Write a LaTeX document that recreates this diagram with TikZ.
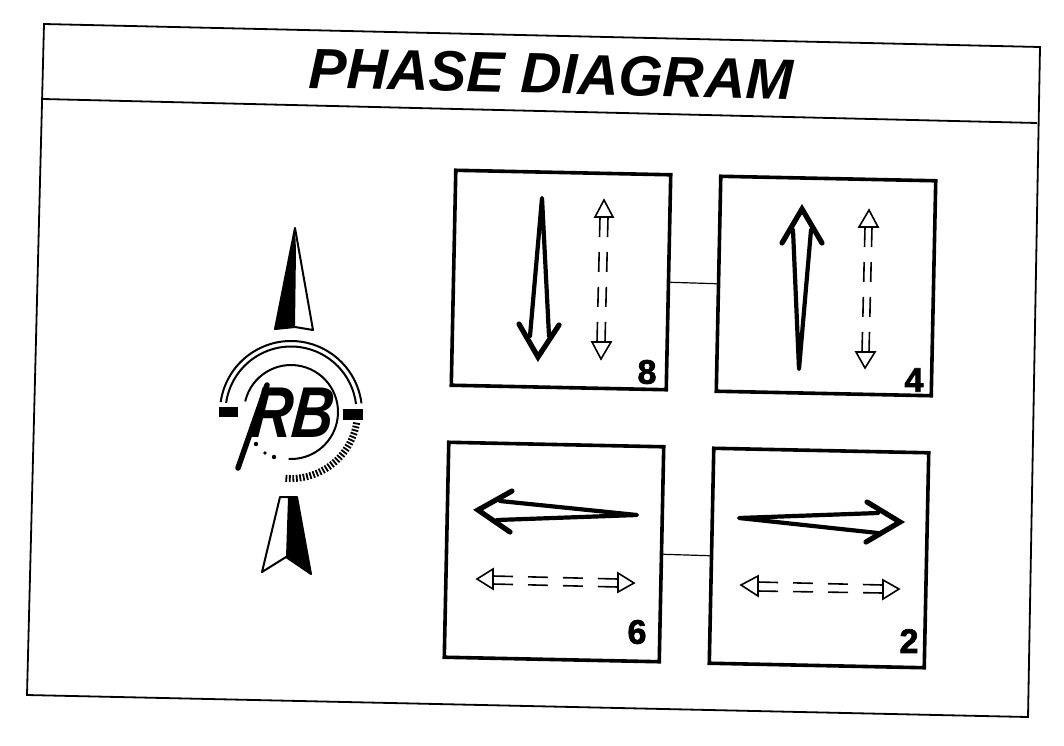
\documentclass[tikz,border=0pt]{standalone}
\usepackage{fontspec}
\setmainfont{Liberation Sans}[BoldFeatures={FakeBold=2.2}]
\usetikzlibrary{calc}
\tikzset{
  framepen/.style={line width=1.8pt},
  panel/.style={draw,line width=3.6pt,minimum width=215pt,minimum height=215pt,inner sep=0pt,rotate=-1.2},
  statelabel/.style={font=\fontsize{34}{34}\bfseries\selectfont},
  boldpen/.style={line width=4.2pt,line cap=round,line join=round},
  headpen/.style={line width=5.2pt,line cap=round,line join=miter},
  openpen/.style={line width=1.6pt,line join=miter},
  dashpen/.style={line width=1.6pt,dash pattern=on 20pt off 15pt},
  logopen/.style={line width=2pt}
}
\begin{document}
\begin{tikzpicture}[x=1pt,y=-1pt]

\useasboundingbox (0,0) rectangle (1064,745);

% outer frame
\coordinate (fr_tl) at (44,24) ;
\coordinate (fr_tr) at (1040,47) ;
\coordinate (fr_br) at (1028,717) ;
\coordinate (fr_bl) at (27,695) ;
\draw[framepen] (fr_tl) -- (fr_tr) -- (fr_br) -- (fr_bl) -- cycle ;
\draw[framepen] (43,99) -- (1037,123) ;
\node[rotate=-1.3,font=\fontsize{57}{57}\bfseries\itshape\selectfont] (title) at (551,74) {PHASE DIAGRAM};

% compass arrows
\fill (295,228) -- (275,329) -- (295,327) -- (296,250) -- cycle ;
\draw[line width=2pt,line join=round] (295,228) -- (275,329) -- (295,327) -- (313,330) -- cycle ;
\fill (288,498) -- (297,497) -- (311,574) -- (286,557) -- cycle ;
\draw[line width=2pt,line join=round] (280,497) -- (297,497) -- (311,574) -- (286,557) -- (262,572) -- cycle ;

% logo
\coordinate (lg_c) at (291,412) ;
\draw[logopen] ($(lg_c)+(172:71pt)$) arc[start angle=172,end angle=7,radius=71pt] ;
\draw[logopen] ($(lg_c)+(172:65.5pt)$) arc[start angle=172,end angle=7,radius=65.5pt] ;
\draw[logopen] ($(lg_c)+(167:47pt)$) arc[start angle=167,end angle=-93,radius=47pt] ;
\fill (219,407) rectangle (238,417) ;
\fill (343,409) rectangle (363,420) ;
\foreach \ang in {-10,-13,...,-94}
  \draw[line width=1.8pt] ($(lg_c)+(\ang:63pt)$) -- ($(lg_c)+(\ang:70pt)$) ;
\draw[line width=5.5pt,line cap=round] (267,385) -- (238,468) ;
\node[font=\fontsize{72}{72}\bfseries\itshape\selectfont,xscale=0.8,xslant=0.12] (logo_rb) at (293,413) {RB};
\fill (256,444) circle (2.2pt) (265,453) circle (1.8pt) (274,457) circle (2.2pt) ;

% the four states
\node[panel] (st8) at (561,280) {} ;
\node[panel] (st4) at (826,286) {} ;
\node[panel] (st6) at (554,552) {} ;
\node[panel] (st2) at (819,558) {} ;

\draw[line width=1.2pt] (st8.east) -- (st4.west) ;
\draw[line width=1.2pt] (st6.east) -- (st2.west) ;

\node[statelabel] (num8) at (647,372) {8} ;
\node[statelabel] (num4) at (914,380) {4} ;
\node[statelabel] (num6) at (637,632) {6} ;
\node[statelabel] (num2) at (909,641) {2} ;

% state 8
\draw[boldpen] (530,336) -- (542,198) -- (549,336) ;
\draw[headpen] (519,324) -- (538,357) -- (559,325) ;
\draw[openpen] (595,217) -- (604,200) -- (613,217) -- cycle ;
\draw[dashpen] (600,217) -- (597,342) ;
\draw[dashpen] (608,217) -- (605,342) ;
\draw[openpen] (592,342) -- (601,359) -- (611,342) -- cycle ;

% state 4
\draw[boldpen] (793,230) -- (799,369) -- (811,230) ;
\draw[headpen] (782,243) -- (802,209) -- (822,243) ;
\draw[openpen] (859,227) -- (869,210) -- (878,227) -- cycle ;
\draw[dashpen] (865,227) -- (862,352) ;
\draw[dashpen] (872,227) -- (869,352) ;
\draw[openpen] (856,352) -- (865,368) -- (875,352) -- cycle ;

% state 6
\draw[boldpen] (500,501) -- (637,515) -- (497,520) ;
\draw[headpen] (512,491) -- (478,510) -- (510,532) ;
\draw[openpen] (493,569) -- (477,579) -- (493,589) -- cycle ;
\draw[dashpen] (493,576) -- (618,579) ;
\draw[dashpen] (493,584) -- (618,587) ;
\draw[openpen] (618,573) -- (634,583) -- (618,592) -- cycle ;

% state 2
\draw[boldpen] (878,513) -- (739,518) -- (878,533) ;
\draw[headpen] (867,502) -- (900,522) -- (866,542) ;
\draw[openpen] (758,576) -- (741,585) -- (758,596) -- cycle ;
\draw[dashpen] (758,582) -- (883,585) ;
\draw[dashpen] (758,591) -- (883,593) ;
\draw[openpen] (883,580) -- (899,589) -- (883,599) -- cycle ;

\end{tikzpicture}
\end{document}
